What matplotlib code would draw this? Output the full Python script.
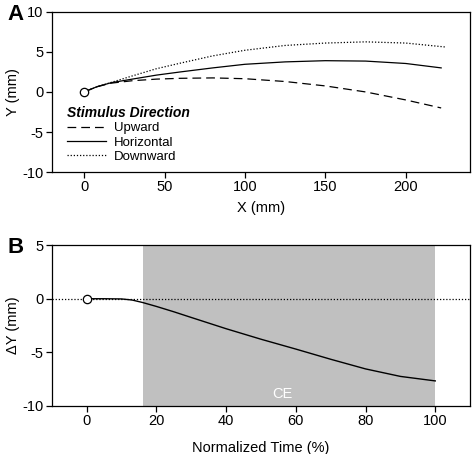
import matplotlib.pyplot as plt
from matplotlib.lines import Line2D

plt.rcParams['font.family'] = ['Liberation Sans', 'DejaVu Sans']
plt.rcParams['font.size'] = 10
plt.rcParams['axes.unicode_minus'] = False

# panel A: hand path in the plane
x_path = [0, 8, 17, 30, 45, 60, 80, 100, 125, 150, 175, 200, 222]
y_upward = [0, 0.65, 1.1, 1.4, 1.6, 1.7, 1.75, 1.65, 1.3, 0.75, 0.0, -1.0, -2.0]
y_horizontal = [0, 0.65, 1.16, 1.6, 2.1, 2.5, 3.0, 3.45, 3.75, 3.9, 3.85, 3.55, 3.0]
x_down = [0, 8, 17, 30, 45, 60, 80, 100, 125, 150, 175, 200, 225]
y_downward = [0, 0.65, 1.2, 2.0, 2.9, 3.6, 4.5, 5.2, 5.8, 6.1, 6.25, 6.1, 5.6]

# panel B: deviation over normalized time
t = [0, 5, 10, 13, 16, 20, 25, 30, 40, 50, 60, 70, 80, 90, 100]
dy = [0, 0, -0.02, -0.12, -0.35, -0.72, -1.22, -1.75, -2.8, -3.78, -4.7, -5.65, -6.55, -7.25, -7.67]
ce_start, ce_end = 16, 100

fig = plt.figure(figsize=(4.72, 4.54), dpi=100)
axA = fig.add_axes([0.110, 0.621, 0.886, 0.353])
axB = fig.add_axes([0.110, 0.106, 0.886, 0.354])

axA.plot(x_path, y_upward, color='black', lw=0.9, ls=(0, (7, 4)))
axA.plot(x_path, y_horizontal, color='black', lw=0.9, ls='-')
axA.plot(x_down, y_downward, color='black', lw=0.9, ls=(0, (1, 1.5)))
axA.plot([0], [0], 'o', mfc='white', mec='black', ms=6, mew=0.9, zorder=5)
axA.set_xlim(-20, 240)
axA.set_ylim(-10, 10)
axA.set_xticks([0, 50, 100, 150, 200])
axA.set_yticks([-10, -5, 0, 5, 10])
axA.set_xlabel('X (mm)', fontsize=10.5, labelpad=5)
axA.set_ylabel('Y (mm)', fontsize=10.5, labelpad=2)

handles = [Line2D([], [], color='black', lw=0.9, ls=(0, (7, 4))),
           Line2D([], [], color='black', lw=0.9, ls='-'),
           Line2D([], [], color='black', lw=0.9, ls=(0, (1, 1.5)))]
leg = axA.legend(handles, ['Upward', 'Horizontal', 'Downward'],
                 title='Stimulus Direction', loc='lower left',
                 bbox_to_anchor=(0.015, 0.0), frameon=False, fontsize=9.5,
                 handlelength=2.9, labelspacing=0.15, borderpad=0.2,
                 handletextpad=0.6)
leg.get_title().set_fontweight('bold')
leg.get_title().set_fontstyle('italic')
leg.get_title().set_fontsize(10)
leg._legend_box.align = 'left'

axB.axvspan(ce_start, ce_end, color='#c0c0c0', lw=0, zorder=0)
axB.axhline(0, color='black', lw=0.9, ls=(0, (1, 1.5)))
axB.plot(t, dy, color='black', lw=1.0)
axB.plot([0], [0], 'o', mfc='white', mec='black', ms=6, mew=0.9, zorder=5)
axB.text(56, -8.9, 'CE', color='white', fontsize=10.5, ha='center', va='center')
axB.set_xlim(-10, 110)
axB.set_ylim(-10, 5)
axB.set_xticks([0, 20, 40, 60, 80, 100])
axB.set_yticks([-10, -5, 0, 5])
axB.set_xlabel('Normalized Time (%)', fontsize=10.5, labelpad=9)
axB.set_ylabel('\u0394Y (mm)', fontsize=10.5, labelpad=2)

for ax in (axA, axB):
    ax.tick_params(labelsize=10.5, width=0.9, length=4, pad=2)
    for s in ax.spines.values():
        s.set_linewidth(0.9)

fig.text(0.015, 0.967, 'A', fontsize=16, fontweight='bold', va='center')
fig.text(0.015, 0.455, 'B', fontsize=16, fontweight='bold', va='center')

fig.savefig('out.png', dpi=100)
